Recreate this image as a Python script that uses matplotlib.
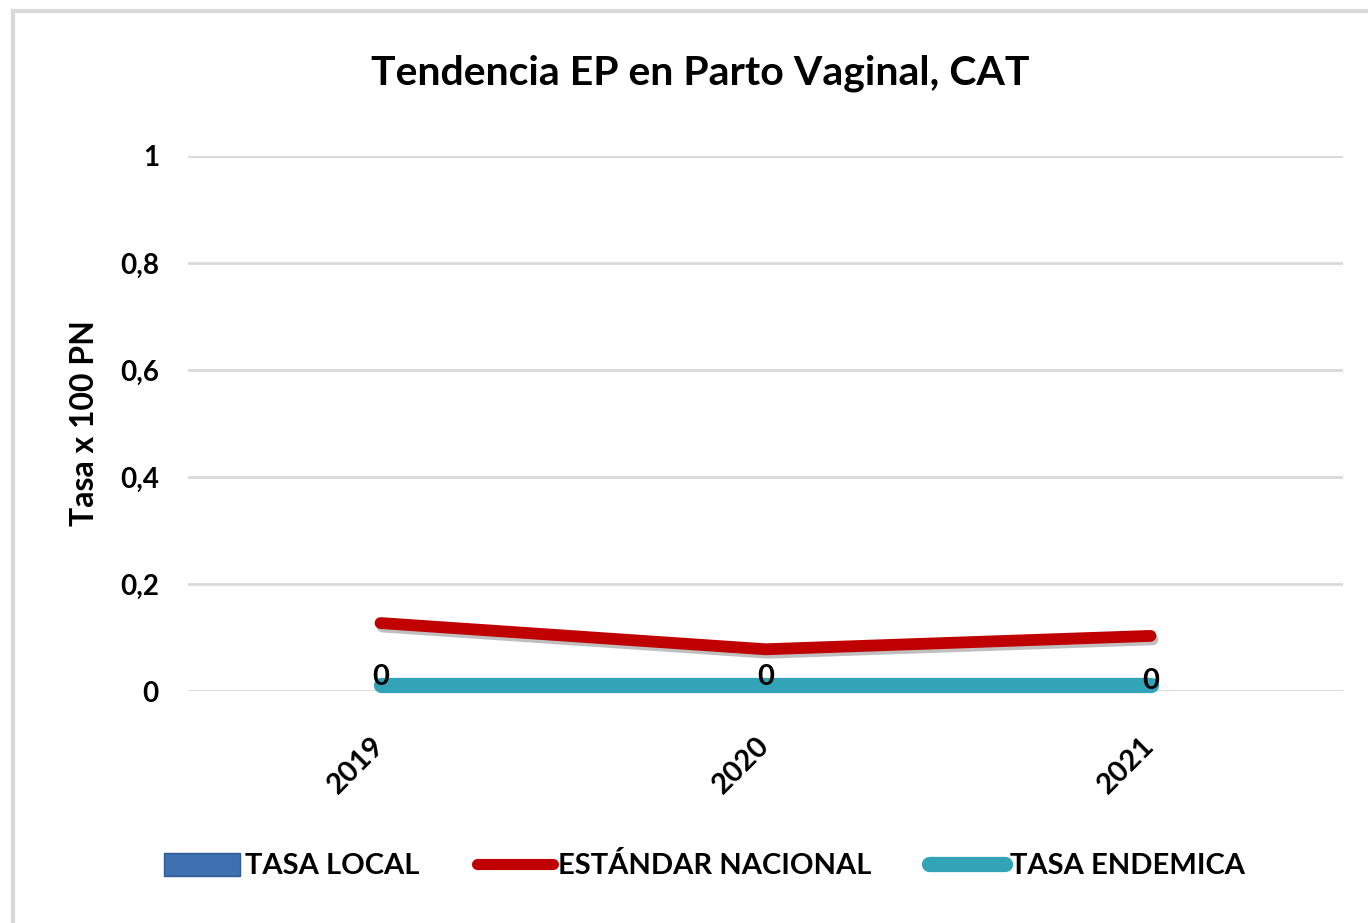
import matplotlib.pyplot as plt
import matplotlib.patheffects as pe
import matplotlib.transforms as mtransforms
from matplotlib.lines import Line2D
from matplotlib.patches import Patch

# data
years = ["2019", "2020", "2021"]
tasa_local = [0, 0, 0]
estandar_nacional = [0.127, 0.078, 0.103]
tasa_endemica = [0, 0, 0]
y_ticks = [0, 0.2, 0.4, 0.6, 0.8, 1]
y_tick_labels = ["0", "0,2", "0,4", "0,6", "0,8", "1"]

plt.rcParams['font.family'] = ['Lato', 'DejaVu Sans']

RED = '#C00000'
TEAL = '#33A3B8'
BLUE = '#3E6FAE'
GRID = '#D9D9D9'

fig = plt.figure(figsize=(13.68, 9.23), dpi=100)
ax = fig.add_axes([188 / 1368, 1 - 691 / 923, (1343 - 188) / 1368, (691 - 156) / 923])

# outer frame (only top and left edges visible in the reference)
fig.add_artist(Line2D([13 / 1368, 13 / 1368], [0, 1 - 11 / 923], color=GRID, lw=3, transform=fig.transFigure))
fig.add_artist(Line2D([13 / 1368, 1], [1 - 11 / 923, 1 - 11 / 923], color=GRID, lw=3, transform=fig.transFigure))

x = list(range(len(years)))

# endemic line sits a few pixels above zero like in the Excel render
shift = mtransforms.ScaledTranslation(0, 6 / 100, fig.dpi_scale_trans)
ax.plot(x, tasa_endemica, color=TEAL, lw=11, solid_capstyle='round', clip_on=False,
        transform=ax.transData + shift, zorder=3)
ax.plot(x, estandar_nacional, color=RED, lw=8.5, solid_capstyle='round', zorder=4,
        path_effects=[pe.SimpleLineShadow(offset=(1.5, -2.5), shadow_color='gray', alpha=0.5),
                      pe.Normal()])

# data labels on the local rate
for xi, v in zip(x, tasa_local):
    ax.annotate(f"{v}", (xi, v), xytext=(0, 10 if xi < 2 else 7), textcoords='offset points',
                ha='center', va='center', fontsize=21, fontweight='bold', zorder=5)

ax.set_xlim(-0.5, 2.5)
ax.set_ylim(0, 1)
ax.set_yticks(y_ticks)
ax.set_yticklabels(y_tick_labels, fontsize=20, fontweight='bold')
ax.set_xticks(x)
ax.set_xticklabels(years, fontsize=21, fontweight='bold', rotation=45,
                   ha='right', va='center', rotation_mode='anchor')
ax.tick_params(axis='x', length=0, pad=36)
ax.tick_params(axis='y', length=0, pad=21)
ax.grid(axis='y', color=GRID, lw=2)
ax.set_axisbelow(True)
for s in ax.spines.values():
    s.set_visible(False)

ax.set_ylabel("Tasa x 100 PN", fontsize=23, fontweight='bold', labelpad=15)
fig.suptitle("Tendencia EP en Parto Vaginal, CAT", x=0.512, y=1 - 73 / 923, va='center',
             fontsize=29.5, fontweight='bold')

handles = [Patch(facecolor=BLUE, edgecolor='#2C5A94'),
           Line2D([], [], color=RED, lw=8, solid_capstyle='round'),
           Line2D([], [], color=TEAL, lw=11, solid_capstyle='round')]
labels = ["TASA LOCAL", "ESTÁNDAR NACIONAL", "TASA ENDEMICA"]
leg = fig.legend(handles, labels, loc='center', bbox_to_anchor=(0.515, 1 - 866 / 923), ncol=3,
                 frameon=False, handlelength=2.6, handleheight=0.8, handletextpad=0.15,
                 columnspacing=2.0, prop={'size': 21, 'weight': 'bold'})

fig.savefig("out.png", dpi=100)
